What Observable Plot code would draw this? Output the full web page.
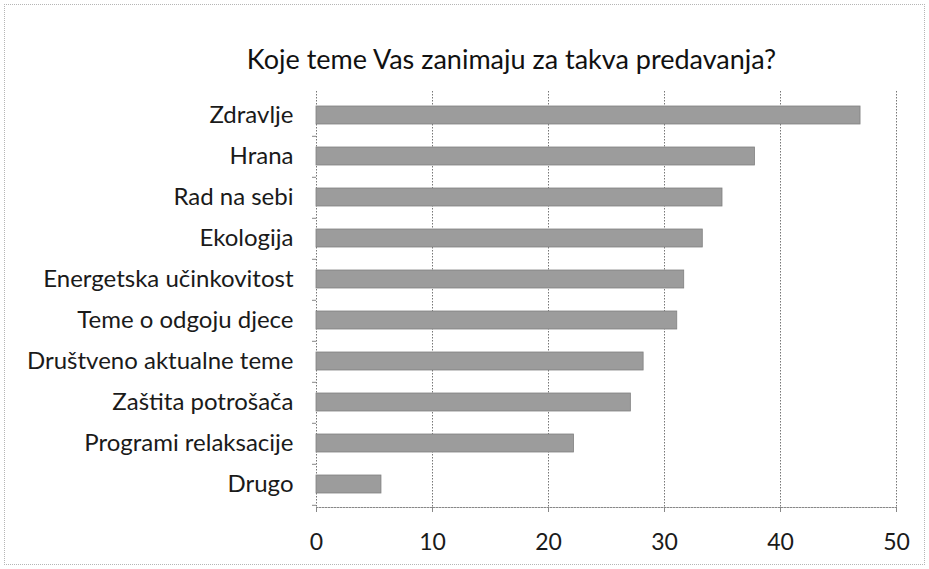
<!DOCTYPE html>
<html>
<head>
<meta charset="utf-8">
<script src="https://cdn.jsdelivr.net/npm/d3@7"></script>
<script src="https://cdn.jsdelivr.net/npm/@observablehq/plot@0.6"></script>
<style>
  body { margin: 0; background: #fff; }
  #wrap { position: relative; width: 929px; height: 569px; }
  #border { position: absolute; left: 4px; top: 4px; width: 919px; height: 559px; border: 1px dotted #b5b5b5; pointer-events: none; }
  svg { font-family: Lato, "Noto Sans", sans-serif; }
</style>
</head>
<body>
<div id="wrap"><div id="border"></div></div>
<script>
const title = "Koje teme Vas zanimaju za takva predavanja?";
const categories = ["Zdravlje", "Hrana", "Rad na sebi", "Ekologija", "Energetska učinkovitost",
  "Teme o odgoju djece", "Društveno aktualne teme", "Zaštita potrošača", "Programi relaksacije", "Drugo"];
const values = [46.9, 37.8, 35.0, 33.3, 31.7, 31.1, 28.2, 27.1, 22.2, 5.6];
const xTicks = [0, 10, 20, 30, 40, 50];

const data = categories.map((c, i) => ({category: c, value: values[i]}));

const chart = Plot.plot({
  width: 929,
  height: 569,
  marginLeft: 316,
  marginRight: 33,
  marginTop: 91,
  marginBottom: 62,
  style: {background: "transparent", color: "#1a1a1a"},
  x: {domain: [0, 50], ticks: xTicks},
  y: {domain: categories, paddingInner: 0.57, paddingOuter: 0.285, label: null},
  marks: [
    Plot.gridX(xTicks, {stroke: "#777", strokeOpacity: 1, strokeDasharray: "1.5,1.5"}),
    Plot.frame({anchor: "bottom", stroke: "#888", strokeDasharray: "1.5,1.5"}),
    Plot.barX(data, {x: "value", y: "category", fill: "#9c9c9c", stroke: "#808080", strokeWidth: 0.8}),
    Plot.axisX({ticks: xTicks, tickSize: 5, tickPadding: 21, fontSize: 23, label: null, stroke: "#888"}),
    Plot.axisY({tickSize: 0, tickPadding: 23, fontSize: 24, label: null}),
    Plot.axisY({tickSize: 4, text: null, dy: 20.8, stroke: "#888"}),
    Plot.text([title], {frameAnchor: "top-left", dx: 195, dy: -42, fontSize: 27, fill: "#111", textAnchor: "middle"})
  ]
});
document.getElementById("wrap").prepend(chart);
</script>
</body>
</html>
